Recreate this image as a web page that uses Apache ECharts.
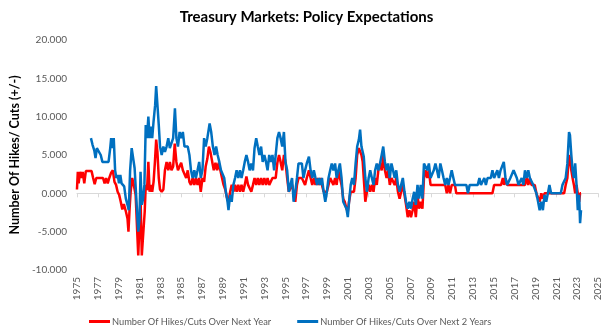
<!DOCTYPE html>
<html>
<head>
<meta charset="utf-8">
<script src="https://cdn.jsdelivr.net/npm/echarts@6/dist/echarts.min.js"></script>
<style>
  html, body { margin: 0; padding: 0; background: #fff; }
  #chart { width: 613px; height: 327px; }
</style>
</head>
<body>
<div id="chart"></div>
<script>
// Expected number of Fed hikes (+) / cuts (-) priced by Treasury markets

const nextYearDates = [
  1975.00, 1975.08, 1975.16, 1975.30, 1975.45, 1975.55, 1975.70, 1975.85, 1976.00, 1976.20,
  1976.40, 1976.55, 1976.70, 1976.85, 1977.10, 1977.30, 1977.50, 1977.65, 1977.80, 1977.95,
  1978.10, 1978.28, 1978.44, 1978.60, 1978.75, 1978.90, 1979.05, 1979.20, 1979.35, 1979.50,
  1979.70, 1979.85, 1979.94, 1980.05, 1980.15, 1980.30, 1980.45, 1980.63, 1980.78, 1980.88,
  1981.00, 1981.10, 1981.22, 1981.38, 1981.50, 1981.60, 1981.72, 1981.85, 1981.97, 1982.10,
  1982.22, 1982.35, 1982.48, 1982.60, 1982.72, 1982.85, 1982.97, 1983.13, 1983.29, 1983.44,
  1983.60, 1983.76, 1983.91, 1984.07, 1984.23, 1984.38, 1984.54, 1984.69, 1985.00, 1985.16,
  1985.32, 1985.48, 1985.63, 1985.79, 1985.94, 1986.10, 1986.26, 1986.41, 1986.57, 1986.73,
  1986.88, 1987.04, 1987.20, 1987.35, 1987.51, 1987.66, 1987.82, 1987.98, 1988.13, 1988.29,
  1988.45, 1988.60, 1988.76, 1988.92, 1989.07, 1989.23, 1989.38, 1989.54, 1989.70, 1989.85,
  1990.01, 1990.17, 1990.32, 1990.48, 1990.64, 1990.79, 1990.95, 1991.10, 1991.26, 1991.42,
  1991.57, 1991.73, 1991.89, 1992.04, 1992.20, 1992.35, 1992.50, 1992.67, 1992.82, 1992.98,
  1993.14, 1993.29, 1993.45, 1993.60, 1993.76, 1993.92, 1994.07, 1994.23, 1994.39, 1994.54,
  1994.70, 1994.86, 1995.01, 1995.17, 1995.33, 1995.48, 1995.64, 1995.79, 1995.95, 1996.11,
  1996.26, 1996.42, 1996.58, 1996.73, 1996.89, 1997.05, 1997.26, 1997.42, 1997.58, 1997.73,
  1997.89, 1998.05, 1998.20, 1998.36, 1998.51, 1998.67, 1998.83, 1998.98, 1999.14, 1999.30,
  1999.45, 1999.61, 1999.77, 1999.92, 2000.08, 2000.23, 2000.39, 2000.55, 2000.70, 2000.86,
  2000.99, 2001.11, 2001.27, 2001.42, 2001.58, 2001.74, 2001.89, 2002.05, 2002.17, 2002.30,
  2002.42, 2002.52, 2002.67, 2002.83, 2002.99, 2003.14, 2003.30, 2003.46, 2003.61, 2003.77,
  2003.92, 2004.08, 2004.24, 2004.39, 2004.55, 2004.71, 2004.86, 2005.02, 2005.18, 2005.33,
  2005.49, 2005.64, 2005.80, 2005.96, 2006.11, 2006.27, 2006.43, 2006.58, 2006.74, 2006.90,
  2007.05, 2007.21, 2007.36, 2007.52, 2007.68, 2007.83, 2007.99, 2008.15, 2008.30, 2008.46,
  2008.61, 2008.77, 2008.93, 2010.34, 2010.49, 2010.65, 2010.80, 2010.96, 2011.27, 2011.40,
  2014.87, 2015.03, 2015.70, 2015.87, 2015.99, 2016.12, 2016.28, 2017.99, 2018.15, 2018.31,
  2018.46, 2018.62, 2018.93, 2019.09, 2019.25, 2019.40, 2019.56, 2019.71, 2019.87, 2021.75,
  2021.90, 2022.06, 2022.22, 2022.31, 2022.44, 2022.56, 2022.69, 2022.81, 2022.94, 2023.06,
  2023.19, 2023.28, 2023.37
];
const nextYearValues = [
  0.5, 2.8, 1.3, 2.8, 2.0, 2.8, 1.3, 2.9, 2.9, 2.9,
  2.9, 2.0, 1.2, 2.0, 2.0, 2.0, 2.0, 1.3, 2.0, 1.3,
  2.0, 2.7, 3.0, 1.5, 1.1, 0.2, -0.2, -1.1, -2.1, -1.4,
  -2.4, -3.3, -5.0, -2.0, 0.2, 2.0, 1.1, -0.2, -5.0, -8.1,
  -8.1, -0.5, -8.1, -8.1, -2.4, 1.1, 0.4, 4.1, 0.2, 1.1,
  0.2, 1.5, 4.1, 7.0, 5.4, 2.0, 0.5, 0.2, 0.5, 3.0,
  4.1, 3.0, 4.1, 3.0, 3.5, 6.5, 4.1, 3.0, 4.0, 3.0,
  3.0, 2.0, 3.0, 1.5, 1.1, 2.0, 1.1, 2.0, 1.1, 2.0,
  0.2, 2.0, 1.5, 3.5, 4.5, 6.1, 5.3, 4.1, 3.0, 4.0,
  3.0, 4.0, 3.0, 2.0, 1.1, 0.5, -0.5, -1.2, 0.2, 1.1,
  0.2, 1.1, 0.2, 1.1, 0.2, 1.1, 0.2, 1.1, 2.2, 1.1,
  1.1, 0.2, 1.1, 2.0, 1.1, 2.0, 1.1, 2.0, 1.1, 2.0,
  1.1, 2.0, 1.1, 1.1, 2.0, 2.0, 2.0, 4.0, 5.0, 4.1,
  3.0, 5.0, 4.1, 2.0, 0.2, 0.2, 1.1, 0.2, -1.1, 1.1,
  2.0, 2.0, 2.0, 2.0, 1.1, 2.0, 3.0, 2.0, 1.1, 2.0,
  1.1, 2.0, 1.1, 2.0, 1.1, 0.2, 0.2, 0.2, 1.1, 2.0,
  2.0, 1.1, 2.0, 1.1, 3.0, 2.0, 1.1, -0.7, -1.1, -2.0,
  -2.4, -1.1, 0.2, 0.2, 0.2, 2.0, 5.0, 5.9, 6.1, 5.0,
  4.1, 2.0, -1.1, 0.2, 1.1, 0.2, 1.1, 0.2, 2.0, 1.1,
  3.0, 3.9, 3.0, 5.0, 3.0, 2.0, 3.0, 1.1, 2.0, 2.0,
  1.1, 2.0, 0.2, -0.7, 0.2, 1.1, -0.2, -1.5, -3.1, -2.2,
  -3.1, -2.2, -1.1, -3.1, -0.2, -2.0, -1.1, -2.0, 2.0, 3.0,
  2.0, 3.0, 1.1, 1.1, 0.0, 1.1, 0.0, 1.1, 1.1, 0.0,
  0.0, 1.1, 1.1, 2.0, 1.1, 2.0, 1.1, 1.1, 2.0, 1.1,
  2.0, 1.1, 1.1, 0.0, -0.2, -1.1, 0.0, -0.7, 0.0, 0.0,
  1.1, 2.0, 5.0, 4.6, 3.0, 2.0, 1.1, 0.0, 1.1, 0.0,
  -1.1, 0.0, 0.0
];

const next2YearsDates = [
  1976.34, 1976.50, 1976.66, 1976.78, 1976.91, 1977.10, 1977.28, 1977.44, 1977.60, 1978.03,
  1978.19, 1978.28, 1978.44, 1978.53, 1978.66, 1978.78, 1978.91, 1979.03, 1979.16, 1979.28,
  1979.41, 1979.53, 1979.69, 1979.85, 1979.97, 1980.10, 1980.25, 1980.41, 1980.53, 1980.66,
  1980.78, 1980.88, 1981.00, 1981.10, 1981.22, 1981.35, 1981.47, 1981.60, 1981.72, 1981.85,
  1981.97, 1982.10, 1982.22, 1982.35, 1982.50, 1982.60, 1982.72, 1982.85, 1982.97, 1983.13,
  1983.29, 1983.44, 1983.60, 1983.76, 1983.91, 1984.07, 1984.23, 1984.40, 1984.54, 1984.69,
  1984.85, 1985.00, 1985.16, 1985.32, 1985.63, 1985.79, 1985.94, 1986.10, 1986.26, 1986.41,
  1986.57, 1986.73, 1986.88, 1987.04, 1987.20, 1987.35, 1987.51, 1987.73, 1987.88, 1988.04,
  1988.20, 1988.35, 1988.50, 1988.66, 1988.82, 1988.98, 1989.13, 1989.29, 1989.45, 1989.54,
  1989.70, 1989.85, 1990.01, 1990.17, 1990.32, 1990.48, 1990.64, 1990.79, 1990.95, 1991.10,
  1991.26, 1991.42, 1991.57, 1991.73, 1991.89, 1992.04, 1992.20, 1992.35, 1992.51, 1992.67,
  1992.82, 1992.98, 1993.14, 1993.29, 1993.45, 1993.60, 1993.76, 1993.92, 1994.07, 1994.23,
  1994.39, 1994.54, 1994.70, 1994.86, 1995.01, 1995.17, 1995.33, 1995.48, 1995.64, 1995.79,
  1995.95, 1996.11, 1996.26, 1996.58, 1996.73, 1996.89, 1997.05, 1997.26, 1997.42, 1997.58,
  1997.73, 1997.89, 1998.05, 1998.20, 1998.36, 1998.51, 1998.67, 1998.83, 1998.98, 1999.14,
  1999.30, 1999.45, 1999.61, 1999.77, 1999.92, 2000.08, 2000.23, 2000.39, 2000.55, 2000.70,
  2000.86, 2000.99, 2001.11, 2001.27, 2001.42, 2001.58, 2001.74, 2001.89, 2002.05, 2002.17,
  2002.30, 2002.42, 2002.52, 2002.67, 2002.83, 2002.99, 2003.14, 2003.30, 2003.46, 2003.61,
  2003.77, 2003.92, 2004.08, 2004.24, 2004.39, 2004.55, 2004.71, 2004.86, 2005.02, 2005.18,
  2005.33, 2005.49, 2005.64, 2005.80, 2005.96, 2006.11, 2006.27, 2006.43, 2006.58, 2006.74,
  2006.90, 2007.05, 2007.21, 2007.36, 2007.52, 2007.68, 2007.83, 2007.99, 2008.15, 2008.30,
  2008.46, 2008.61, 2008.77, 2008.93, 2009.08, 2009.24, 2009.40, 2009.55, 2009.71, 2009.87,
  2010.02, 2010.18, 2010.34, 2010.49, 2010.65, 2010.80, 2010.96, 2011.12, 2011.27, 2012.37,
  2012.52, 2012.68, 2013.46, 2013.62, 2013.77, 2014.09, 2014.24, 2014.40, 2014.71, 2014.87,
  2015.03, 2015.18, 2015.34, 2015.49, 2015.65, 2015.81, 2015.96, 2016.12, 2016.28, 2016.43,
  2016.59, 2016.74, 2016.90, 2017.06, 2017.21, 2017.37, 2017.53, 2017.68, 2017.84, 2017.99,
  2018.15, 2018.31, 2018.46, 2018.62, 2018.78, 2018.93, 2019.09, 2019.25, 2019.40, 2019.56,
  2019.71, 2019.87, 2020.03, 2020.19, 2020.34, 2020.50, 2021.43, 2021.59, 2021.75, 2021.90,
  2022.06, 2022.22, 2022.31, 2022.44, 2022.56, 2022.69, 2022.81, 2022.94, 2023.06, 2023.19,
  2023.28, 2023.37
];
const next2YearsValues = [
  7.2, 6.3, 5.6, 4.6, 5.9, 6.1, 5.0, 4.1, 4.1, 4.1,
  5.9, 7.2, 5.9, 7.2, 3.0, 2.0, 2.4, 1.3, 2.4, 1.3,
  1.1, 0.9, -0.7, -1.5, -2.2, 3.0, 5.9, 5.9, 3.3, 0.2,
  -2.8, -5.0, -3.3, 2.8, -1.5, -0.7, 1.1, 8.9, 7.2, 10.0,
  7.2, 8.7, 7.2, 9.4, 11.5, 14.0, 14.0, 8.9, 6.1, 5.0,
  6.1, 5.4, 6.1, 7.2, 5.9, 6.1, 7.2, 11.1, 7.2, 6.1,
  8.0, 7.2, 8.0, 6.1, 6.1, 5.0, 3.0, 2.0, 3.0, 2.0,
  3.0, 4.1, 2.0, 3.0, 7.2, 6.1, 7.2, 9.1, 8.0, 6.1,
  5.0, 6.1, 5.0, 4.1, 3.0, 2.8, 2.0, 0.2, -1.1, -2.2,
  -0.2, -1.1, 1.1, 2.0, 3.0, 2.0, 3.0, 2.0, 3.0, 4.1,
  5.0, 4.1, 3.0, 3.9, 3.0, 5.9, 7.2, 6.1, 5.0, 6.1,
  4.1, 5.0, 4.1, 3.0, 5.0, 4.1, 5.0, 3.0, 5.0, 7.2,
  8.0, 7.2, 6.1, 8.0, 4.1, 3.0, 0.2, 1.1, 2.0, -1.1,
  0.2, 2.0, 3.9, 3.9, 2.0, 3.0, 3.9, 4.8, 3.0, 2.0,
  3.0, 2.0, 1.1, 2.0, 1.1, 2.0, 0.2, -1.1, 0.2, 2.0,
  3.0, 3.9, 3.0, 3.9, 2.0, 3.0, 3.9, 2.0, -1.1, -1.1,
  -2.0, -3.1, -1.1, 1.1, 2.0, 1.1, 3.9, 6.1, 7.0, 8.3,
  6.1, 6.1, 4.8, 2.0, 0.2, 2.0, 3.0, 2.0, 1.1, 3.0,
  3.9, 3.0, 3.9, 5.0, 6.1, 4.1, 3.0, 3.9, 2.0, 3.9,
  3.0, 2.0, 3.0, 1.1, 0.2, 1.1, 2.0, 0.2, -1.1, -2.0,
  -1.1, -2.0, -0.7, 0.2, -1.5, 1.1, -0.7, 1.1, -0.7, 3.9,
  3.9, 3.0, 3.9, 2.0, 2.0, 3.0, 3.9, 3.0, 2.0, 3.9,
  3.0, 2.0, 1.1, 2.0, 1.1, 2.0, 3.0, 2.0, 1.1, 1.1,
  0.0, 1.1, 1.1, 2.0, 1.1, 2.0, 1.1, 2.0, 2.0, 3.0,
  2.0, 2.0, 3.0, 2.0, 3.0, 3.0, 4.1, 2.0, 1.1, 1.1,
  2.0, 2.0, 3.0, 3.0, 2.0, 1.1, 1.1, 2.0, 1.1, 3.0,
  2.0, 3.0, 2.0, 2.0, 1.1, 1.1, 0.0, -1.1, -2.2, -1.1,
  -2.2, -0.2, -1.1, 0.0, 1.1, 0.0, 0.0, 1.1, 1.1, 2.0,
  3.9, 8.0, 7.6, 5.0, 3.0, 2.0, 3.9, 1.1, -2.2, -0.2,
  -3.9, -2.2
];

const seriesNames = [
  'Number Of Hikes/Cuts Over Next Year',
  'Number Of Hikes/Cuts Over Next 2 Years'
];

const FONT = 'Lato, "Liberation Sans", sans-serif';

function pairs(xs, ys) {
  return xs.map((x, i) => [x, ys[i]]);
}

const chart = echarts.init(document.getElementById('chart'), null, { renderer: 'canvas' });

chart.setOption({
  animation: false,
  backgroundColor: '#ffffff',
  textStyle: { fontFamily: FONT },
  title: {
    text: 'Treasury Markets: Policy Expectations',
    left: 'center',
    top: 5,
    textStyle: { fontFamily: FONT, fontSize: 15, fontWeight: 'bold', color: '#000000' }
  },
  grid: { left: 65, right: 15, top: 40, bottom: 57 },
  legend: {
    left: 84,
    top: 312,
    itemWidth: 21,
    itemHeight: 3,
    itemGap: 26,
    icon: 'rect',
    textStyle: { fontFamily: FONT, fontSize: 9.3, color: '#595959', padding: [0, 0, 0, -3] },
    data: seriesNames
  },
  xAxis: [
    {
      // zero line with year ticks
      type: 'value',
      min: 1975, max: 2025, interval: 2,
      axisLine: { show: true, onZero: true, lineStyle: { color: '#D9D9D9', width: 1 } },
      axisTick: { show: true, length: 4, lineStyle: { color: '#D9D9D9' } },
      axisLabel: { show: false },
      splitLine: { show: false }
    },
    {
      // year labels along the bottom edge
      type: 'value',
      position: 'bottom',
      min: 1975, max: 2025, interval: 2,
      axisLine: { show: false, onZero: false },
      axisTick: { show: false },
      splitLine: { show: false },
      axisLabel: {
        rotate: 90,
        margin: 7,
        fontFamily: FONT,
        fontSize: 10,
        color: '#595959',
        showMinLabel: true,
        showMaxLabel: true,
        formatter: v => String(Math.round(v))
      }
    }
  ],
  yAxis: {
    type: 'value',
    min: -10, max: 20, interval: 5,
    name: 'Number Of Hikes/ Cuts (+/-)',
    nameLocation: 'middle',
    nameGap: 45,
    nameTextStyle: { fontFamily: FONT, fontSize: 12.5, fontWeight: 'bold', color: '#000000' },
    axisLine: { show: false },
    axisTick: { show: false },
    splitLine: { show: false },
    axisLabel: {
      margin: 10,
      fontFamily: FONT,
      fontSize: 10,
      color: '#595959',
      formatter: v => v.toFixed(3)
    }
  },
  series: [
    {
      name: seriesNames[0],
      type: 'line',
      xAxisIndex: 0,
      data: pairs(nextYearDates, nextYearValues),
      showSymbol: false,
      lineStyle: { color: '#FF0000', width: 2.5 },
      itemStyle: { color: '#FF0000' }
    },
    {
      name: seriesNames[1],
      type: 'line',
      xAxisIndex: 0,
      data: pairs(next2YearsDates, next2YearsValues),
      showSymbol: false,
      lineStyle: { color: '#0070C0', width: 2.5 },
      itemStyle: { color: '#0070C0' }
    }
  ]
});
</script>
</body>
</html>
